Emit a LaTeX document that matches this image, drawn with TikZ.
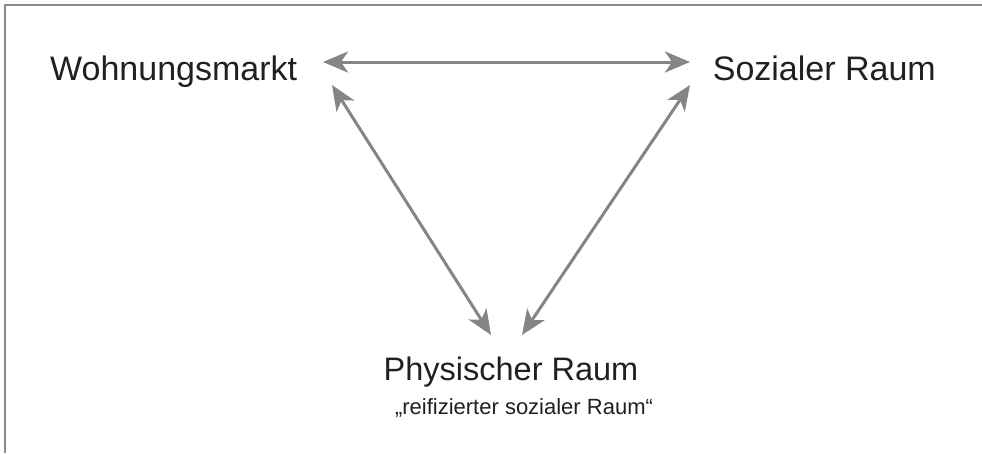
\documentclass[tikz,border=0pt]{standalone}
\usepackage{fontspec}
\setmainfont{Liberation Sans}
\usetikzlibrary{arrows.meta}
\definecolor{arrowgray}{HTML}{858585}
\definecolor{framegray}{HTML}{8A8A8A}
\definecolor{textdark}{HTML}{231F20}
\begin{document}
\begin{tikzpicture}[x=1pt,y=-1pt,
  lbl/.style={inner sep=0pt,text=textdark,font=\fontsize{34}{40}\selectfont},
  relarrow/.style={draw=arrowgray,line width=3pt,
    {Stealth[length=25pt,width=21pt,inset=7pt]}-{Stealth[length=25pt,width=21pt,inset=7pt]}},
  frameline/.style={draw=framegray,line width=1.3pt}]
\useasboundingbox (0,0) rectangle (982,453);
\draw[frameline] (982,5) -- (5,5) -- (5,453);
\node[lbl,anchor=base west] (wm) at (50,80) {Wohnungsmarkt};
\node[lbl,anchor=base east] (sr) at (936,80) {Sozialer Raum};
\node[lbl,anchor=base,font=\fontsize{32.5}{38}\selectfont] (pr) at (511,380) {Physischer Raum};
\node[lbl,anchor=base,font=\fontsize{22}{27}\selectfont] (rr) at (524,414) {„reifizierter sozialer Raum“};
\coordinate (wmA) at (323,62);
\coordinate (srA) at (690,62);
\coordinate (wmB) at (332,85);
\coordinate (srB) at (690,85);
\coordinate (prL) at (491,335);
\coordinate (prR) at (522,335);
\draw[relarrow] (wmA) -- (srA);
\draw[relarrow] (wmB) -- (prL);
\draw[relarrow] (srB) -- (prR);
\end{tikzpicture}
\end{document}
